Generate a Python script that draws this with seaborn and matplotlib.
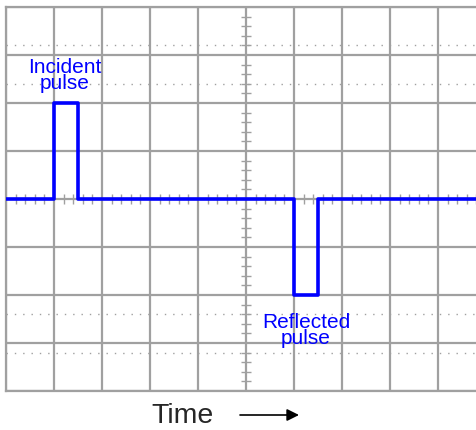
import numpy as np
import matplotlib
matplotlib.use("Agg")
import matplotlib.pyplot as plt
import seaborn as sns

# trace, in graticule divisions
time_div = [-5, -4, -4, -3.5, -3.5, 1, 1, 1.5, 1.5, 5]
volts_div = [0, 0, 2, 2, 0, 0, -2, -2, 0, 0]

labels = ["Incident\npulse", "Reflected\npulse"]
label_x = [-3.77, 1.25]
label_y = [2.6, -2.72]

sns.set_style("white")
plt.rcParams["font.family"] = ["Liberation Sans", "DejaVu Sans"]

grid_col = "#a0a0a0"

fig = plt.figure(figsize=(4.77, 4.31), dpi=100)
ax = fig.add_axes([6 / 477, 39 / 431, 480 / 477, 384 / 431])
ax.set_xlim(-5, 5)
ax.set_ylim(-4, 4)

# graticule
ax.set_xticks(np.arange(-5, 6))
ax.set_yticks(np.arange(-4, 5))
ax.grid(True, color=grid_col, lw=1.6)
ax.tick_params(length=0, labelbottom=False, labelleft=False)
for s in ax.spines.values():
    s.set_color(grid_col)
    s.set_linewidth(1.6)
ax.set_axisbelow(True)

# minor ticks on the centre cross
minor = np.arange(-5, 5.01, 0.2)
minor = minor[np.abs(minor - np.round(minor)) > 0.01]
ax.vlines(minor, -0.1, 0.1, color=grid_col, lw=1.0, zorder=1)
minor_y = minor[np.abs(minor) < 4]
ax.hlines(minor_y, -0.1, 0.1, color=grid_col, lw=1.0, zorder=1)

# dotted rise-time lines
ax.hlines([3.2, 2.4, -2.4, -3.2], -5, 5, color=grid_col, lw=1.0,
          linestyle=(0, (1, 5)), zorder=1)

sns.lineplot(x=time_div, y=volts_div, sort=False, estimator=None,
             color="#0000ff", lw=2.6, ax=ax, zorder=3)
ax.set_xlabel("")
ax.set_ylabel("")

for t, x, y in zip(labels, label_x, label_y):
    ax.text(x, y, t, color="#0000ff", fontsize=15, ha="center", va="center",
            linespacing=0.8, zorder=4)

fig.text(183 / 477, 8 / 431, "Time", fontsize=20.5, ha="center", va="baseline")
ax.annotate("", xy=(299 / 477, 1 - 416 / 431), xytext=(240 / 477, 1 - 416 / 431),
            xycoords="figure fraction", textcoords="figure fraction",
            annotation_clip=False,
            arrowprops=dict(arrowstyle="-|>", color="black", lw=1.2,
                            mutation_scale=18, shrinkA=0, shrinkB=0))

fig.savefig("out.png", dpi=100)
